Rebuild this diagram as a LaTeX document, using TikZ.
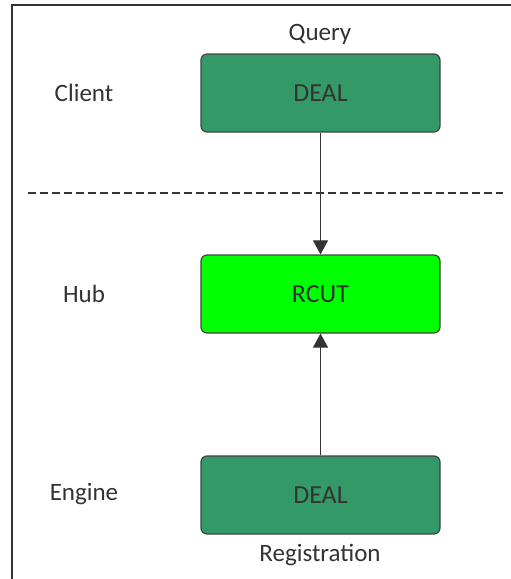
\documentclass[tikz,border=0pt]{standalone}
\usepackage{fontspec}
\setmainfont{Carlito}
\usetikzlibrary{arrows.meta}
\definecolor{dealfill}{HTML}{339966}
\definecolor{boxline}{HTML}{444444}
\definecolor{hubfill}{HTML}{00FF00}
\definecolor{inkc}{HTML}{333333}
\tikzset{x=1pt,y=-1pt,
 dealbox/.style={draw=boxline,fill=dealfill,line width=1.2pt,rounded corners=6pt,minimum width=239pt,minimum height=78pt,inner sep=0pt,text=inkc,font=\fontsize{26}{30}\selectfont},
 hubbox/.style={dealbox,fill=hubfill},
 lab/.style={text=inkc,inner sep=0pt,font=\fontsize{25}{30}\selectfont},
 conn/.style={draw=inkc,line width=1.1pt,-{Triangle[length=14pt,width=15pt]}}}
\begin{document}
\begin{tikzpicture}
\useasboundingbox (0,0) rectangle (511,579);
\fill[white] (0,0) rectangle (511,579);
\draw[inkc,line width=2pt] (11.5,579) -- (11.5,5) -- (511,5);
\node[dealbox] (client) at (320.5,93) {DEAL};
\node[hubbox] (hub) at (320.5,294) {RCUT};
\node[dealbox] (engine) at (320.5,495) {DEAL};
\node[lab] (q) at (320,34.5) {Query};
\node[lab] (r) at (320,554.5) {Registration};
\node[lab] (lc) at (84,93) {Client};
\node[lab] (lh) at (84,294) {Hub};
\node[lab] (le) at (84,494.5) {Engine};
\coordinate (dl) at (28,193);
\coordinate (dr) at (503,193);
\draw[inkc,line width=1.1pt,dash pattern=on 8pt off 4pt] (dl) -- (dr);
\draw[conn] (client) -- (hub);
\draw[conn] (engine) -- (hub);
\end{tikzpicture}
\end{document}
